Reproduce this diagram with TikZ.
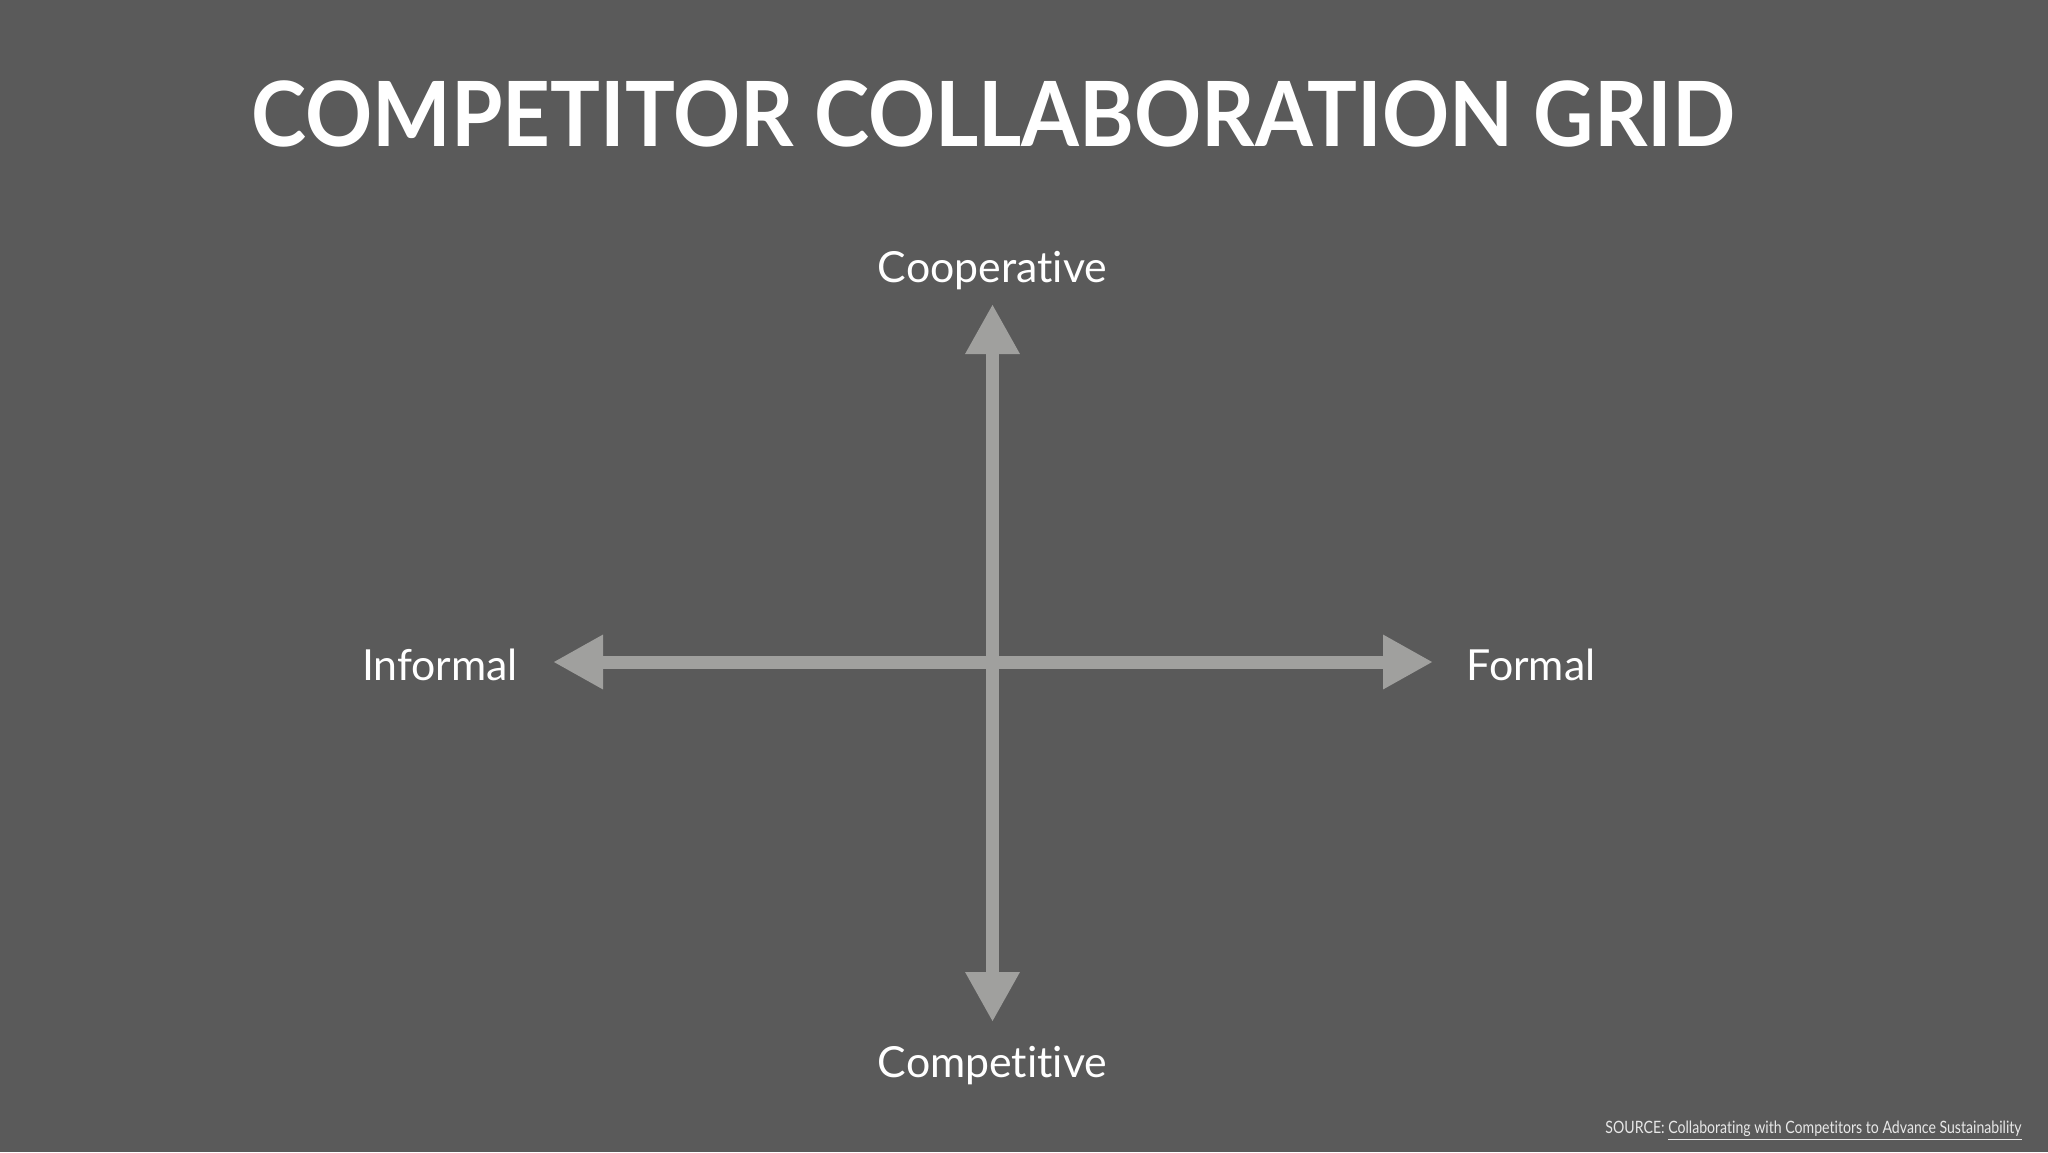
\documentclass[tikz,border=0pt]{standalone}
\usepackage{fontspec}
\setmainfont{Lato}[Ligatures={NoCommon}]
\usetikzlibrary{arrows.meta}
\definecolor{bg}{HTML}{5A5A5A}
\definecolor{axis}{HTML}{A0A09E}
\definecolor{srcgray}{HTML}{E8E8E8}
\tikzset{
  axisline/.style={draw=axis, line width=6.5pt,
    {Triangle[width=25.5pt,length=25pt]}-{Triangle[width=25.5pt,length=25pt]}},
  axlabel/.style={text=white, font=\fontsize{21.4}{25}\selectfont, inner sep=0pt},
}
\begin{document}
\begin{tikzpicture}[x=0.5pt,y=-0.5pt]
\fill[bg] (0,0) rectangle (2048,1152);
\useasboundingbox (0,0) rectangle (2048,1152);
\node[anchor=base west, inner sep=0pt, text=white, font=\fontsize{45}{54}\selectfont\bfseries] (title) at (251,146) {\scalebox{0.925}[1]{COMPETITOR COLLABORATION GRID}};
\coordinate (top) at (992.5,304);
\coordinate (bot) at (992.5,1022);
\coordinate (left) at (553,662);
\coordinate (right) at (1433,662);
\draw[axisline] (bot) -- (top);
\draw[axisline] (left) -- (right);
\node[axlabel, anchor=base] (coop) at (992.5,282) {Cooperative};
\node[axlabel, anchor=base] (comp) at (992.5,1077) {Competitive};
\node[axlabel, anchor=base] (inf) at (440,680) {Informal};
\node[axlabel, anchor=base] (form) at (1531,680) {Formal};
\node[anchor=base east, inner sep=0pt, text=srcgray, font=\fontsize{8.5}{10}\selectfont] (src) at (2022,1133) {\scalebox{0.83}[1]{SOURCE: \underline{Collaborating with Competitors to Advance Sustainability}}};
\end{tikzpicture}
\end{document}
